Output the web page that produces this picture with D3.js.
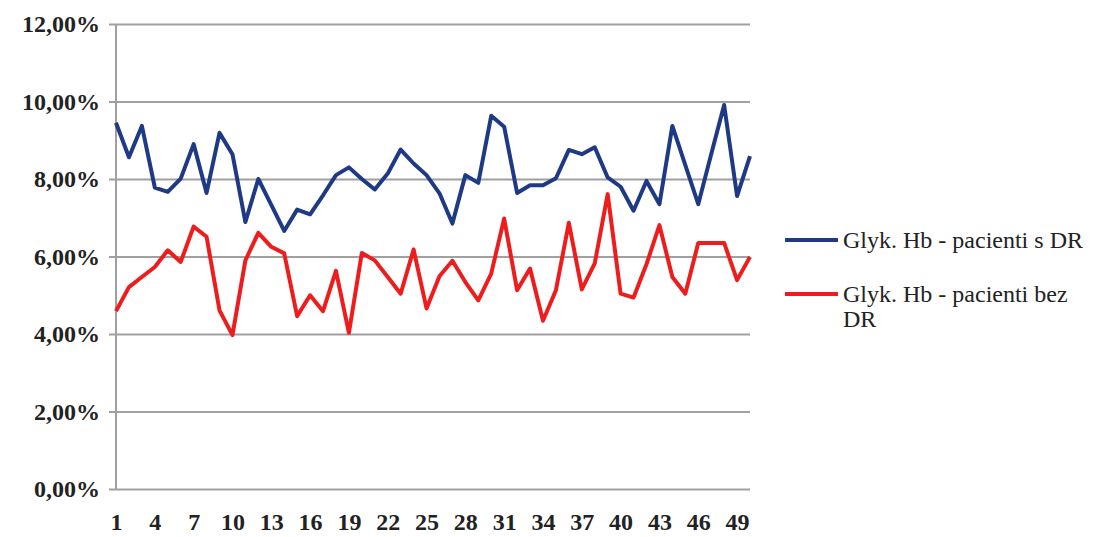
<!DOCTYPE html>
<html>
<head>
<meta charset="utf-8">
<script src="https://cdn.jsdelivr.net/npm/d3@7"></script>
<style>
  body { margin: 0; background: #fff; }
</style>
</head>
<body>
<script>
// values, in %
let categories = d3.range(1, 51);
let seriesNames = ["Glyk. Hb - pacienti s DR", "Glyk. Hb - pacienti bez DR"];
let withDR = [9.45, 8.56, 9.37, 7.78, 7.67, 8.01, 8.90, 7.64, 9.19, 8.64,
              6.89, 8.00, 7.33, 6.66, 7.21, 7.09, 7.58, 8.10, 8.30, 8.00,
              7.73, 8.14, 8.76, 8.40, 8.10, 7.63, 6.85, 8.10, 7.90, 9.63,
              9.35, 7.64, 7.84, 7.84, 8.02, 8.75, 8.64, 8.82, 8.04, 7.80,
              7.18, 7.95, 7.35, 9.37, 8.36, 7.35, 8.64, 9.91, 7.56, 8.59];
let withoutDR = [4.59, 5.21, 5.47, 5.73, 6.16, 5.86, 6.77, 6.51, 4.61, 3.97,
                 5.90, 6.61, 6.25, 6.08, 4.46, 5.00, 4.59, 5.63, 4.03, 6.09,
                 5.90, 5.47, 5.04, 6.18, 4.66, 5.49, 5.89, 5.34, 4.87, 5.56,
                 6.98, 5.13, 5.69, 4.34, 5.13, 6.87, 5.15, 5.82, 7.61, 5.04,
                 4.94, 5.80, 6.81, 5.47, 5.04, 6.35, 6.35, 6.35, 5.39, 5.99];
let yTicks = [0, 2, 4, 6, 8, 10, 12];
let xTicks = [1, 4, 7, 10, 13, 16, 19, 22, 25, 28, 31, 34, 37, 40, 43, 46, 49];
let colors = ["#1f3a84", "#ee1d1d"];

const width = 1102, height = 537;
const serif = "'Liberation Serif', 'DejaVu Serif', serif";

let svg = d3.select("body").append("svg")
    .attr("width", width)
    .attr("height", height);

let x = d3.scaleLinear().domain([1, 50]).range([116, 750]);
let y = d3.scaleLinear().domain([0, 12]).range([489, 24]);

// gridlines + left ticks
let yAxis = d3.axisLeft(y)
    .tickValues(yTicks)
    .tickSize(-(750 - 116))
    .tickSizeOuter(0)
    .tickPadding(16)
    .tickFormat(d => d.toFixed(2).replace(".", ",") + "%");

let gy = svg.append("g")
    .attr("transform", "translate(116,0)")
    .call(yAxis)
    .attr("font-family", serif);
gy.select(".domain").remove();
gy.selectAll(".tick line")
    .attr("x1", -7)
    .attr("stroke", "#a0a0a0")
    .attr("stroke-width", 2);
gy.selectAll(".tick text")
    .attr("font-size", 24)
    .attr("font-weight", "bold")
    .attr("fill", "#222");

// vertical axis line
svg.append("line")
    .attr("x1", 116).attr("x2", 116)
    .attr("y1", y(12)).attr("y2", y(0))
    .attr("stroke", "#a0a0a0")
    .attr("stroke-width", 2);

// bottom labels
let xAxis = d3.axisBottom(x)
    .tickValues(xTicks)
    .tickSize(0)
    .tickPadding(24)
    .tickFormat(d => d);

let gx = svg.append("g")
    .attr("transform", `translate(0,${y(0)})`)
    .call(xAxis)
    .attr("font-family", serif);
gx.select(".domain").remove();
gx.selectAll(".tick text")
    .attr("font-size", 24)
    .attr("font-weight", "bold")
    .attr("fill", "#222");

// series lines
let line = d3.line()
    .x((d, i) => x(categories[i]))
    .y(d => y(d));

[withDR, withoutDR].forEach((s, k) => {
  svg.append("path")
      .datum(s)
      .attr("fill", "none")
      .attr("stroke", colors[k])
      .attr("stroke-width", 4)
      .attr("stroke-linejoin", "round")
      .attr("d", line);
});

// legend
let legend = svg.append("g").attr("id", "legend");
let legendRows = [
  { y: 240, lines: ["Glyk. Hb - pacienti s DR"] },
  { y: 294, lines: ["Glyk. Hb - pacienti bez", "DR"] }
];
legendRows.forEach((r, k) => {
  legend.append("line")
      .attr("x1", 785).attr("x2", 838)
      .attr("y1", r.y).attr("y2", r.y)
      .attr("stroke", colors[k])
      .attr("stroke-width", 4);
  let t = legend.append("text")
      .attr("x", 843)
      .attr("y", r.y + 8)
      .attr("font-family", serif)
      .attr("font-size", 24)
      .attr("fill", "#222");
  r.lines.forEach((ln, j) => {
    t.append("tspan")
        .attr("x", 843)
        .attr("dy", j === 0 ? 0 : 25)
        .text(ln);
  });
});
</script>
</body>
</html>
